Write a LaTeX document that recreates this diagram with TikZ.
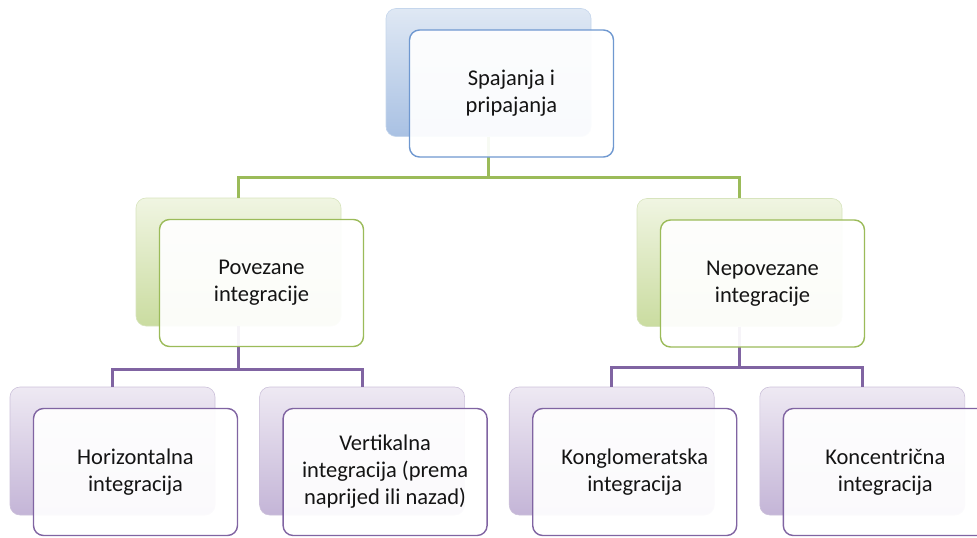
\documentclass[tikz,border=0pt]{standalone}
\usepackage{fontspec}
\setmainfont{Carlito}
\usepackage{tikz}
\usetikzlibrary{positioning}
\definecolor{BlueEdge}{HTML}{6F98D0}
\definecolor{BlueTop}{HTML}{DFE8F4}
\definecolor{BlueBot}{HTML}{A9C1E3}
\definecolor{GreenEdge}{HTML}{9BBB59}
\definecolor{GreenTop}{HTML}{F0F5E2}
\definecolor{GreenBot}{HTML}{CADCA0}
\definecolor{PurpleEdge}{HTML}{8064A2}
\definecolor{PurpleTop}{HTML}{EEE9F3}
\definecolor{PurpleBot}{HTML}{C4B5D7}

\begin{document}
\begin{tikzpicture}[x=1pt,y=-1pt,
    back/.style={rectangle,rounded corners=10pt,
      minimum width=205pt,minimum height=128pt,line width=0.6pt},
    blueback/.style={back,draw=BlueEdge!40,top color=BlueTop,bottom color=BlueBot},
    greenback/.style={back,draw=GreenEdge!40,top color=GreenTop,bottom color=GreenBot},
    purpleback/.style={back,draw=PurpleEdge!40,top color=PurpleTop,bottom color=PurpleBot},
    front/.style={rectangle,rounded corners=10pt,line width=1.4pt,
      fill=white,fill opacity=0.93,text opacity=1,text=black!92,
      minimum width=204pt,minimum height=127pt,align=center,
      font=\fontsize{22.5}{27}\selectfont},
    bluefront/.style={front,draw=BlueEdge},
    greenfront/.style={front,draw=GreenEdge},
    purplefront/.style={front,draw=PurpleEdge},
    greenline/.style={draw=GreenEdge,line width=3pt},
    purpleline/.style={draw=PurpleEdge,line width=3pt}
  ]
    \useasboundingbox (0,0) rectangle (977,538);

    % back boxes
    \node[blueback] (rootbg) at (488.5,72.5) {};
    \node[greenback] (povbg) at (238.5,262) {};
    \node[greenback] (nepbg) at (739.5,262.5) {};
    \node[purpleback] (horizbg) at (112.5,451) {};
    \node[purpleback,right=44pt of horizbg] (vertbg) {};
    \node[purpleback,right=44pt of vertbg] (kongbg) {};
    \node[purpleback,right=45pt of kongbg] (koncbg) {};

    % connectors
    \draw[greenline] (rootbg.south) -- ++(0,41) -| (povbg.north);
    \draw[greenline] (rootbg.south) -- ++(0,41) -| (nepbg.north);
    \draw[purpleline] (povbg.south) -- ++(0,43) -| (horizbg.north);
    \draw[purpleline] (povbg.south) -- ++(0,43) -| (vertbg.north);
    \draw[purpleline] (nepbg.south) -- ++(0,41) -| (kongbg.north);
    \draw[purpleline] (nepbg.south) -- ++(0,41) -| (koncbg.north);

    % front boxes
    \node[bluefront] (root) at ([shift={(23,21)}]rootbg.center)
      {Spajanja i\\pripajanja};
    \node[greenfront] (pov) at ([shift={(23,21)}]povbg.center)
      {Povezane\\integracije};
    \node[greenfront] (nep) at ([shift={(23,21)}]nepbg.center)
      {Nepovezane\\integracije};
    \node[purplefront] (horiz) at ([shift={(23,21)}]horizbg.center)
      {Horizontalna\\integracija};
    \node[purplefront] (vert) at ([shift={(23,21)}]vertbg.center)
      {Vertikalna\\integracija (prema\\naprijed ili nazad)};
    \node[purplefront] (kong) at ([shift={(23,21)}]kongbg.center)
      {Konglomeratska\\integracija};
    \node[purplefront] (konc) at ([shift={(23,21)}]koncbg.center)
      {Koncentrična\\integracija};
  \end{tikzpicture}
\end{document}
